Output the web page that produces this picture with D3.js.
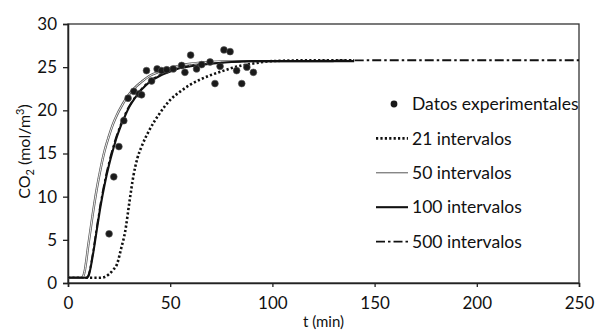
<!DOCTYPE html>
<html>
<head>
<meta charset="utf-8">
<script src="https://cdn.jsdelivr.net/npm/d3@7"></script>
<style>
  body { margin: 0; background: #fff; }
  text { font-family: Lato, "Open Sans", sans-serif; fill: #111; }
</style>
</head>
<body>
<div id="chart"></div>
<script>
// datos experimentales
var expT = [20.1, 22.4, 24.9, 27.3, 29.4, 32.2, 34.8, 36.0, 38.4, 40.9, 43.6, 45.8, 48.3, 51.5, 55.6, 57.2, 60.0, 62.9, 65.4, 69.5, 71.9, 74.4, 76.3, 79.3, 82.5, 85.0, 87.5, 90.7];
var expY = [5.7, 12.3, 15.8, 18.8, 21.4, 22.2, 21.9, 21.8, 24.6, 23.4, 24.8, 24.6, 24.7, 24.8, 25.2, 24.4, 26.4, 24.8, 25.3, 25.6, 23.1, 25.1, 27.0, 26.8, 24.6, 23.1, 25.0, 24.4];

// 21 intervalos
var t21 = [0, 10, 15, 18, 20, 22, 24, 26, 28, 30, 32, 34, 36, 40, 45, 50, 55, 60, 65, 70, 75, 80, 90, 100, 120, 140];
var y21 = [0.6, 0.6, 0.6, 0.7, 1.0, 1.5, 2.2, 4.0, 6.0, 9.3, 12.4, 14.5, 15.8, 17.8, 19.7, 21.2, 22.2, 23.0, 23.6, 24.1, 24.5, 24.9, 25.4, 25.7, 25.8, 25.8];

// 50 intervalos
var t50 = [0, 7, 8, 10, 12, 14, 16, 18, 20, 22, 24, 26, 28, 30, 33, 36, 40, 45, 50, 55, 60, 70, 80, 90, 100, 130];
var y50 = [0.6, 0.6, 1.2, 4.5, 7.8, 10.8, 13.3, 15.4, 17.0, 18.4, 19.5, 20.4, 21.2, 21.9, 22.7, 23.3, 24.0, 24.5, 24.9, 25.2, 25.4, 25.6, 25.7, 25.7, 25.7, 25.7];

// 100 intervalos
var t100 = [0, 9, 10, 12, 14, 16, 18, 20, 22, 24, 26, 28, 30, 33, 36, 40, 45, 50, 55, 60, 70, 80, 90, 100, 120, 140];
var y100 = [0.6, 0.6, 0.8, 3.0, 6.0, 9.0, 11.5, 13.6, 15.4, 17.0, 18.3, 19.4, 20.4, 21.5, 22.4, 23.3, 24.0, 24.5, 24.9, 25.1, 25.4, 25.6, 25.7, 25.7, 25.7, 25.7];

// 500 intervalos
var t500 = [0, 9, 10, 12, 14, 16, 18, 20, 22, 24, 26, 28, 30, 33, 36, 40, 45, 50, 55, 60, 70, 80, 90, 100, 150, 200, 250];
var y500 = [0.6, 0.6, 0.9, 3.2, 6.3, 9.3, 11.8, 13.9, 15.7, 17.2, 18.5, 19.6, 20.5, 21.6, 22.5, 23.4, 24.1, 24.6, 24.9, 25.2, 25.5, 25.6, 25.7, 25.7, 25.8, 25.8, 25.8];

var xTicks = [0, 50, 100, 150, 200, 250];
var yTicks = [0, 5, 10, 15, 20, 25, 30];
var legendLabels = ['Datos experimentales', '21 intervalos', '50 intervalos', '100 intervalos', '500 intervalos'];

var W = 595, H = 331;
var m = { top: 24, right: 16, bottom: 48, left: 68 };

var svg = d3.select('#chart').append('svg')
  .attr('width', W)
  .attr('height', H);

var x = d3.scaleLinear().domain([0, 250]).range([m.left, W - m.right]);
var y = d3.scaleLinear().domain([0, 30]).range([H - m.bottom, m.top]);

// marco
svg.append('rect')
  .attr('x', x(0)).attr('y', y(30))
  .attr('width', x(250) - x(0)).attr('height', y(0) - y(30))
  .attr('fill', 'none').attr('stroke', '#333').attr('stroke-width', 1.3);

var xAxis = svg.append('g')
  .attr('transform', 'translate(0,' + y(0) + ')')
  .call(d3.axisBottom(x).tickValues(xTicks).tickSize(4).tickPadding(10));
var yAxis = svg.append('g')
  .attr('transform', 'translate(' + x(0) + ',0)')
  .call(d3.axisLeft(y).tickValues(yTicks).tickSize(5).tickPadding(6));

[xAxis, yAxis].forEach(function(a) {
  a.select('.domain').attr('stroke', '#222').attr('stroke-width', 1.5);
  a.selectAll('.tick line').attr('stroke', '#222').attr('stroke-width', 1.3);
  a.selectAll('.tick text').attr('font-size', 17).attr('fill', '#111')
    .style('font-family', 'Lato, sans-serif');
});

svg.append('text')
  .attr('x', (x(0) + x(250)) / 2)
  .attr('y', 327)
  .attr('text-anchor', 'middle')
  .attr('font-size', 15)
  .text('t (min)');

var yl = svg.append('text')
  .attr('transform', 'translate(30,' + ((y(0) + y(30)) / 2 - 2) + ') rotate(-90)')
  .attr('text-anchor', 'middle')
  .attr('font-size', 16);
yl.append('tspan').text('CO');
yl.append('tspan').attr('font-size', 11).attr('dy', 4).text('2');
yl.append('tspan').attr('dy', -4).text(' (mol/m');
yl.append('tspan').attr('font-size', 11).attr('dy', -6).text('3');
yl.append('tspan').attr('dy', 6).text(')');

var line = d3.line().x(function(d) { return x(d[0]); }).y(function(d) { return y(d[1]); })
  .curve(d3.curveMonotoneX);

function pairs(ts, ys) { return ts.map(function(t, i) { return [t, ys[i]]; }); }

var styles = {
  s21: { stroke: '#111', width: 2.6, dash: '2.2 2.2' },
  s50out: { stroke: '#555', width: 2.4, dash: null },
  s50in: { stroke: '#fff', width: 0.9, dash: null },
  s100: { stroke: '#111', width: 2.1, dash: null },
  s500: { stroke: '#111', width: 1.8, dash: '9 3 2.5 3' }
};

function drawLine(data, st) {
  svg.append('path')
    .datum(data)
    .attr('d', line)
    .attr('fill', 'none')
    .attr('stroke', st.stroke)
    .attr('stroke-width', st.width)
    .attr('stroke-dasharray', st.dash);
}

drawLine(pairs(t500, y500), styles.s500);
drawLine(pairs(t21, y21), styles.s21);
drawLine(pairs(t50, y50), styles.s50out);
drawLine(pairs(t50, y50), styles.s50in);
drawLine(pairs(t100, y100), styles.s100);

svg.append('g').selectAll('circle')
  .data(pairs(expT, expY))
  .join('circle')
  .attr('cx', function(d) { return x(d[0]); })
  .attr('cy', function(d) { return y(d[1]); })
  .attr('r', 3.4)
  .attr('fill', '#1a1a1a')
  .attr('stroke', '#555')
  .attr('stroke-width', 0.6);

// leyenda
var lg = svg.append('g');
var lgX = 412, lgY0 = 104, lgStep = 34.4;
legendLabels.forEach(function(lab, i) {
  var cy = lgY0 + i * lgStep;
  lg.append('text')
    .attr('x', lgX).attr('y', cy)
    .attr('dy', '0.35em')
    .attr('font-size', 17.5)
    .text(lab);
  if (i === 0) {
    lg.append('circle').attr('cx', 394).attr('cy', cy).attr('r', 3.4).attr('fill', '#1a1a1a');
  } else {
    var st = [null, styles.s21, styles.s50out, styles.s100, styles.s500][i];
    lg.append('line')
      .attr('x1', 376).attr('x2', 408).attr('y1', cy).attr('y2', cy)
      .attr('stroke', st.stroke).attr('stroke-width', i === 2 ? 1 : st.width)
      .attr('stroke-dasharray', st.dash);
  }
});
</script>
</body>
</html>
